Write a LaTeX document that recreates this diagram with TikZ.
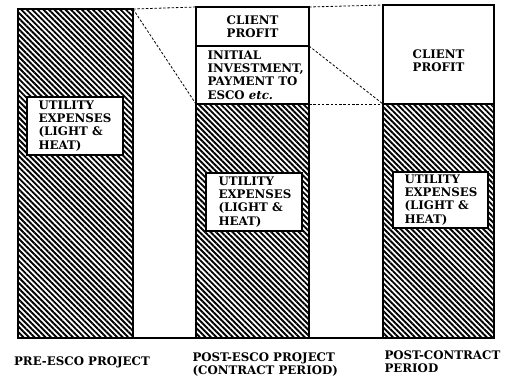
\documentclass[tikz,border=0pt]{standalone}
\usepackage{fontspec}
\setmainfont{DejaVu Serif}
\usetikzlibrary{patterns.meta}
\begin{document}
\begin{tikzpicture}[x=1pt,y=-1pt,
  hatch/.style={draw=black,line width=1.4pt,
    pattern={Lines[angle=-45,distance=3.9pt,line width=1.9pt]},
    anchor=north west,inner sep=0pt,outer sep=0pt},
  wbox/.style={draw=black,line width=1.1pt,fill=white,anchor=north west,
    inner sep=0pt,outer sep=0pt},
  txt/.style={font=\fontsize{11.8}{13.2}\selectfont\bfseries,align=left},
  ctxt/.style={font=\fontsize{11.8}{13.2}\selectfont\bfseries,align=center},
  dashline/.style={line width=0.8pt,dash pattern=on 2.5pt off 1.8pt}]
\useasboundingbox (0,0) rectangle (505,380);
% bars
\node[hatch,minimum width=115pt,minimum height=329pt] (b1) at (18,9) {};
\node[hatch,minimum width=113pt,minimum height=234pt] (b2) at (196,104) {};
\node[hatch,minimum width=111pt,minimum height=234pt] (b3) at (383,104) {};
% upper boxes
\node[wbox,minimum width=113pt,minimum height=39pt] (cp2) at (196,7) {};
\node[ctxt] at (cp2.center) {CLIENT\\PROFIT};
\node[wbox,minimum width=113pt,minimum height=58pt] (ii2) at (196,46) {};
\node[txt,anchor=west] at ([xshift=8pt]ii2.west) {INITIAL\\INVESTMENT,\\PAYMENT TO\\ESCO {\itshape etc.}};
\node[wbox,minimum width=111pt,minimum height=99pt] (cp3) at (383,5) {};
\node[ctxt] at (438.5,61) {CLIENT\\PROFIT};
% utility boxes
\node[wbox,minimum width=96pt,minimum height=58pt] (u1) at (27,97) {};
\node[txt,anchor=west] at ([xshift=8pt]u1.west) {UTILITY\\EXPENSES\\(LIGHT \&\\HEAT)};
\node[wbox,minimum width=96pt,minimum height=58pt] (u2) at (206,173) {};
\node[txt,anchor=west] at ([xshift=9pt]u2.west) {UTILITY\\EXPENSES\\(LIGHT \&\\HEAT)};
\node[wbox,minimum width=95pt,minimum height=56pt] (u3) at (393,172) {};
\node[txt,anchor=west] at ([xshift=8pt]u3.west) {UTILITY\\EXPENSES\\(LIGHT \&\\HEAT)};
% baseline
\draw[line width=1.2pt] (b1.south west) -- (b3.south east);
% dashed connectors
\draw[dashline] (b1.north east) -- (cp2.north west);
\draw[dashline] (cp2.north east) -- (cp3.north west);
\draw[dashline] (b1.north east) -- (b2.north west);
\draw[dashline] (ii2.north east) -- (cp3.south west);
\draw[dashline] (b2.north east) -- (b3.north west);
% labels
\node[txt,anchor=center] (l1) at (82,362) {PRE-ESCO PROJECT};
\node[txt,anchor=north west] (l2) at (189,349) {POST-ESCO PROJECT\\(CONTRACT PERIOD)};
\node[txt,anchor=north west] (l3) at (381,347) {POST-CONTRACT\\PERIOD};
\end{tikzpicture}
\end{document}
